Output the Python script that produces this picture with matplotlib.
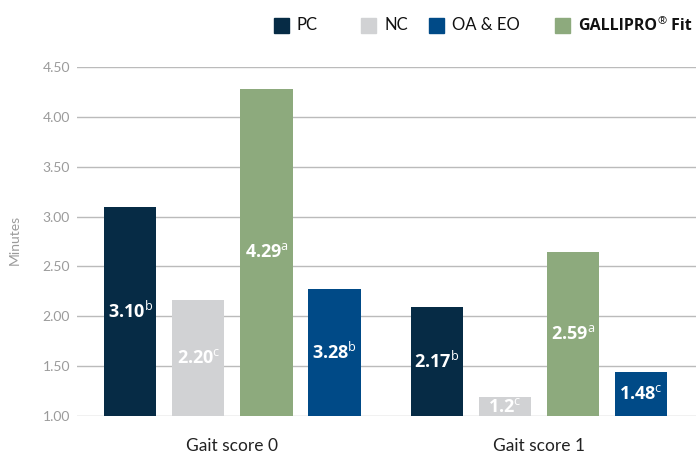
import matplotlib
matplotlib.use("Agg")
import matplotlib.pyplot as plt
from matplotlib.patches import Rectangle
import numpy as np

plt.rcParams["font.family"] = ["Open Sans", "DejaVu Sans"]
plt.rcParams["mathtext.fontset"] = "custom"
plt.rcParams["mathtext.rm"] = "Open Sans"
plt.rcParams["mathtext.bf"] = "Open Sans:bold"

# data
groups = ["Gait score 0", "Gait score 1"]
series = ["PC", "NC", "GALLIPRO® Fit", "OA & EO"]
colors = ["#062B45", "#D1D2D4", "#8DAA7D", "#004A87"]
pc_vals = [3.10, 2.09]
nc_vals = [2.16, 1.19]
gp_vals = [4.28, 2.64]
oa_vals = [2.27, 1.44]
pc_labels = ["3.10", "2.17"]
nc_labels = ["2.20", "1.2"]
gp_labels = ["4.29", "2.59"]
oa_labels = ["3.28", "1.48"]
pc_sup = ["b", "b"]
nc_sup = ["c", "c"]
gp_sup = ["a", "a"]
oa_sup = ["b", "c"]
yticks = [1.00, 1.50, 2.00, 2.50, 3.00, 3.50, 4.00, 4.50]

values = [pc_vals, nc_vals, gp_vals, oa_vals]
labels = [pc_labels, nc_labels, gp_labels, oa_labels]
sups = [pc_sup, nc_sup, gp_sup, oa_sup]

fig = plt.figure(figsize=(6.96, 4.57), dpi=100)
ax = fig.add_axes([77 / 696, 41 / 457, 1 - 77 / 696, 349 / 457])

x = np.arange(len(groups))
width = 0.17
step = 0.222
for i in range(len(series)):
    off = (i - 1.5) * step
    bars = ax.bar(x + off, np.array(values[i]) - 1.0, width, bottom=1.0,
                  color=colors[i], zorder=3)
    for j, b in enumerate(bars):
        ycen = 1.0 + (values[i][j] - 1.0) / 2
        txt = r"$\mathbf{" + labels[i][j] + "}^{\mathrm{" + sups[i][j] + "}}$"
        ax.text(b.get_x() + b.get_width() / 2, ycen, txt, color="white",
                ha="center", va="center", fontsize=13, zorder=4)

ax.set_ylim(1.0, 4.5)
ax.set_xlim(-0.507, 1.512)
ax.set_yticks(yticks)
ax.set_yticklabels([f"{t:.2f}" for t in yticks], color="#9B9B9B",
                   fontsize=10, family="Lato")
ax.yaxis.grid(True, color="#BBBBBB", linewidth=1.0, zorder=0)
ax.tick_params(axis="y", length=0, pad=5)
ax.tick_params(axis="x", length=0, pad=16)
ax.set_xticks(x)
ax.set_xticklabels(groups, fontsize=12.5, color="#222222", family="Lato")
for s in ax.spines.values():
    s.set_visible(False)
ax.set_axisbelow(True)

fig.text(15 / 696, 1 - 240 / 457, "Minutes", rotation=90, color="#9B9B9B",
         fontsize=10, ha="center", va="center", family="Lato")

# legend, drawn by hand
legend_order = [0, 1, 3, 2]
sq_x = [274, 361, 429, 555]
ly = 1 - 25.5 / 457
renderer = fig.canvas.get_renderer()
for k, idx in enumerate(legend_order):
    fig.add_artist(Rectangle((sq_x[k] / 696, ly - 7.5 / 457), 15 / 696, 15 / 457,
                             transform=fig.transFigure, color=colors[idx]))
    tx = (sq_x[k] + 23) / 696
    if idx == 2:
        # bold name, small raised mark, then "Fit"
        name, rest = series[idx].split("®")
        t1 = fig.text(tx, ly, name, fontsize=11.5, fontweight="bold",
                      va="center", ha="left", color="#111111")
        w1 = t1.get_window_extent(renderer).width / 696
        t2 = fig.text(tx + w1 + 1 / 696, ly + 4 / 457, "®", fontsize=8,
                      va="center", ha="left", color="#111111")
        w2 = t2.get_window_extent(renderer).width / 696
        fig.text(tx + w1 + w2 + 1 / 696, ly, rest, fontsize=11.5,
                 fontweight="bold", va="center", ha="left", color="#111111")
    else:
        fig.text(tx, ly, series[idx], fontsize=12,
                 va="center", ha="left", color="#111111", family="Lato")

fig.savefig("out.png", dpi=100)
